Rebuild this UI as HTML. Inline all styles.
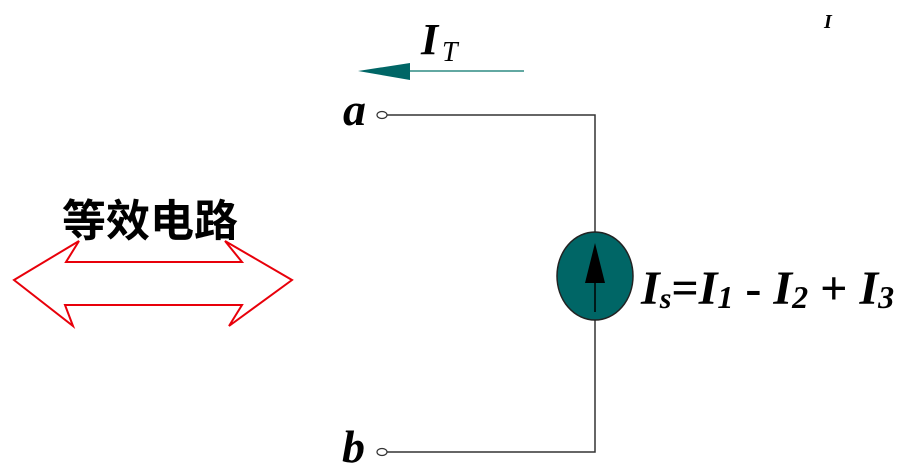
<!DOCTYPE html>
<html><head><meta charset="utf-8"><style>html,body{margin:0;padding:0;background:#fff;}svg{display:block;}</style></head>
<body>
<svg width="908" height="472" viewBox="0 0 908 472" xmlns="http://www.w3.org/2000/svg">
<rect width="908" height="472" fill="#fff"/>
<polyline points="387,115 595,115 595,452 387,452" fill="none" stroke="#333" stroke-width="1.5"/>
<ellipse cx="382" cy="115" rx="5" ry="3.5" fill="#fff" stroke="#333" stroke-width="1.2"/>
<ellipse cx="382" cy="452" rx="5" ry="3.5" fill="#fff" stroke="#333" stroke-width="1.2"/>
<text x="343" y="125" font-family="Liberation Serif" font-style="italic" font-weight="bold" font-size="46">a</text>
<text x="342" y="462" font-family="Liberation Serif" font-style="italic" font-weight="bold" font-size="46">b</text>
<ellipse cx="595" cy="276" rx="38" ry="44" fill="#006666" stroke="#222" stroke-width="1.5"/>
<line x1="595" y1="270" x2="595" y2="312" stroke="#000" stroke-width="1.5"/>
<polygon points="595,243 585,283 605,283" fill="#000"/>
<line x1="400" y1="71" x2="524" y2="71" stroke="#2e8b84" stroke-width="1.5"/>
<polygon points="358,71 410,63 410,80" fill="#006666"/>
<text x="421" y="54" font-family="Liberation Serif" font-style="italic" font-weight="bold" font-size="44">I</text>
<text x="442" y="61" font-family="Liberation Serif" font-style="italic" font-size="28">T</text>
<text x="824" y="28" font-family="Liberation Serif" font-style="italic" font-weight="bold" font-size="20">I</text>
<text x="641" y="304" font-family="Liberation Serif" font-style="italic" font-weight="bold" font-size="48" letter-spacing="0">I<tspan font-size="30" dy="4">s</tspan><tspan dy="-4" font-style="normal">=</tspan>I<tspan font-size="32" dy="4">1</tspan><tspan dy="-4" font-style="normal"> - </tspan>I<tspan font-size="32" dy="4">2</tspan><tspan dy="-4" font-style="normal"> + </tspan>I<tspan font-size="32" dy="4">3</tspan></text>
<text x="62" y="236" font-family="Liberation Sans, 'Noto Sans CJK SC', sans-serif" font-weight="bold" font-size="44">等效电路</text>
<polygon points="14,280 79,241 66,262 242,262 225,241 292,280 229,326 242,305 65,305 73,326" fill="#fff" stroke="#e8000a" stroke-width="2" stroke-linejoin="miter"/>
</svg>
</body></html>
